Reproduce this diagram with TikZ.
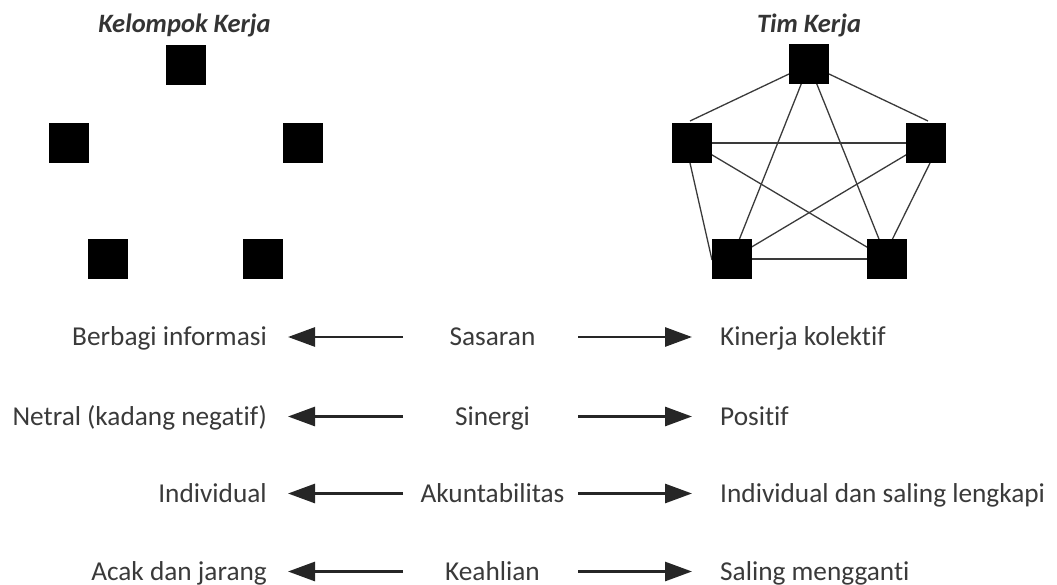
\documentclass[tikz,border=0pt]{standalone}
\usepackage{fontspec}
\setmainfont{Carlito}[Ligatures=NoCommon]
\usetikzlibrary{arrows.meta}
\definecolor{ink}{HTML}{3A3A3A}
\tikzset{
  member/.style={fill=black, draw=none, minimum size=40pt, inner sep=0pt},
  link/.style={draw=ink, line width=1.3pt},
  heading/.style={font=\fontsize{26.5}{30}\selectfont\bfseries\itshape, text=ink!90!black, inner sep=0pt, anchor=base},
  label/.style={font=\fontsize{27.3}{31}\selectfont, text=ink, inner sep=0pt},
  arr/.style={draw=black!85, line width=2.8pt, -{Triangle[length=27pt,width=19pt]}}
}
\begin{document}
\begin{tikzpicture}[x=1pt, y=-1pt]
\useasboundingbox (0,0) rectangle (1057,585);

% Kelompok Kerja: five isolated members
\node[heading] (tk) at (184.5,33) {Kelompok Kerja};
\node[member] (k1) at (185.5,65) {};
\node[member] (k2) at (68.5,143) {};
\node[member] (k3) at (302.5,143) {};
\node[member] (k4) at (107.5,259.5) {};
\node[member] (k5) at (263,259.5) {};

% Tim Kerja: five fully connected members
\node[heading] (tt) at (809,33) {Tim Kerja};
\coordinate (p1) at (809,64.5);
\coordinate (p2) at (692,143);
\coordinate (p3) at (926,143);
\coordinate (p4) at (731.5,259);
\coordinate (p5) at (887,259);
\coordinate (q2) at (690,121);
\coordinate (q3) at (928,121);
\coordinate (s2) at (690,163);
\coordinate (w4) at (712,260);
\coordinate (s3) at (930,163);
\coordinate (n5) at (892,240);
\draw[link] (p1) -- (q2);
\draw[link] (p1) -- (q3);
\draw[link] (p2) -- (p3);
\draw[link] (p2) -- (p5);
\draw[link] (p3) -- (p4);
\draw[link] (p1) -- (p4);
\draw[link] (p1) -- (p5);
\draw[link] (s2) -- (w4);
\draw[link] (s3) -- (n5);
\draw[link] (p4) -- (p5);
\node[member] (t1) at (p1) {};
\node[member] (t2) at (p2) {};
\node[member] (t3) at (p3) {};
\node[member] (t4) at (p4) {};
\node[member] (t5) at (p5) {};

% Comparison rows
\foreach \i/\y/\l/\m/\r in {
  1/337/{Berbagi informasi}/{Sasaran}/{Kinerja kolektif},
  2/416.5/{Netral (kadang negatif)}/{Sinergi}/{Positif},
  3/493.5/{Individual}/{Akuntabilitas}/{Individual dan saling lengkapi},
  4/571.5/{Acak dan jarang}/{Keahlian}/{Saling mengganti}}{
  \node[label, anchor=base east] (L\i) at (267,\y+8.5) {\l};
  \node[label, anchor=base] (M\i) at (492.5,\y+8.5) {\m};
  \node[label, anchor=base west] (R\i) at (720,\y+8.5) {\r};
  \coordinate (ml\i) at (403,\y);
  \coordinate (mr\i) at (578,\y);
  \draw[arr] (ml\i) -- ([xshift=21pt]L\i.east |- ml\i);
  \draw[arr] (mr\i) -- ([xshift=-28pt]R\i.west |- mr\i);
}
\end{tikzpicture}
\end{document}
